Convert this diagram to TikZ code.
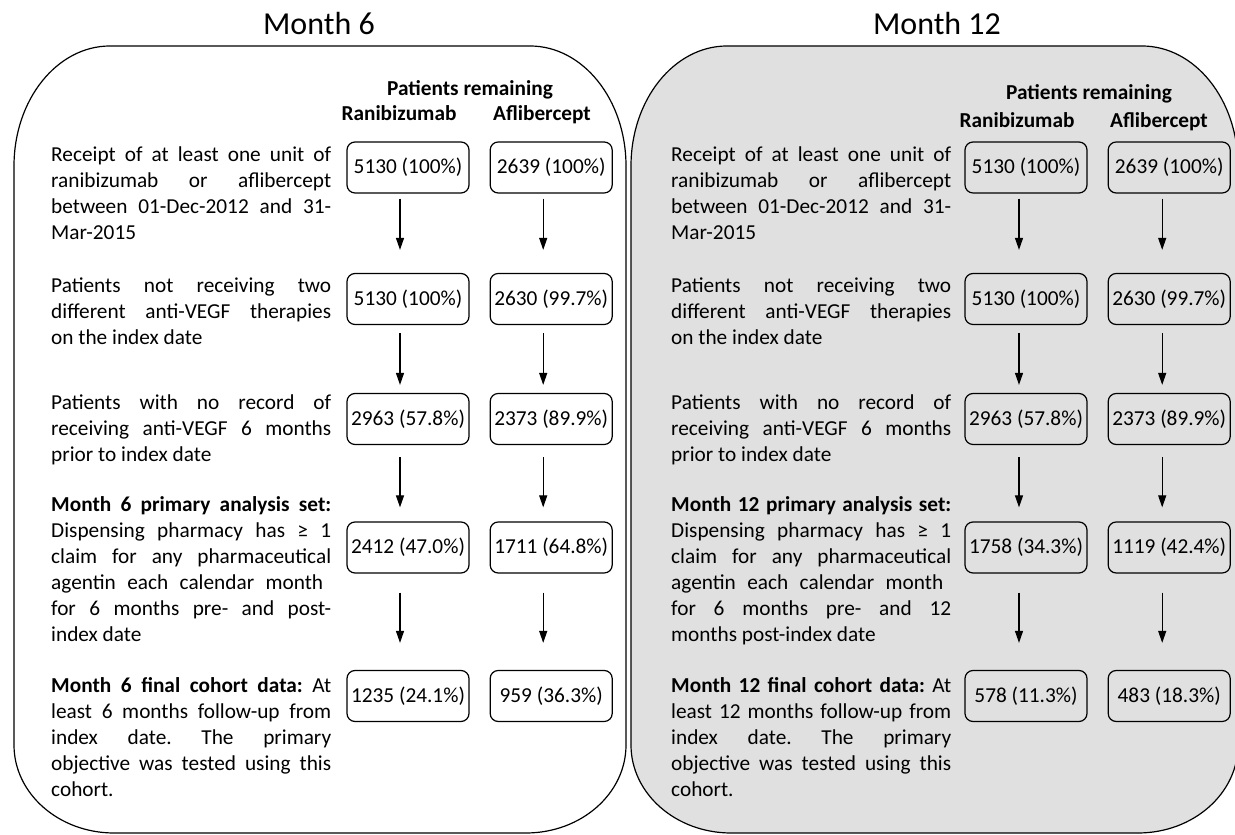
\documentclass[tikz,border=0pt]{standalone}
\usepackage{fontspec}
\setmainfont{Carlito}
\usetikzlibrary{positioning,arrows.meta}
\definecolor{panelgray}{RGB}{224,224,224}
\frenchspacing
\newcommand{\jl}[1]{\makebox[280pt][s]{#1}}
\newcommand{\para}[1]{\parbox[t]{280pt}{\fontsize{21.3}{26}\selectfont #1}}

\begin{document}
\begin{tikzpicture}
  [x=1pt, y=1pt, node distance=20pt,
   box/.style={draw, rounded corners=8pt, line width=1.2pt, minimum width=122pt,
     minimum height=51pt, inner sep=2pt, font=\fontsize{21.3}{26}\selectfont},
   txt/.style={anchor=base west, inner sep=0pt},
   hdr/.style={anchor=base, inner sep=0pt, font=\fontsize{21.3}{26}\selectfont\bfseries},
   ttl/.style={anchor=base, inner sep=0pt, font=\fontsize{32}{38}\selectfont},
   arr/.style={-{Triangle[length=12pt,width=8pt]}, line width=1.2pt},
   panel/.style={draw, line width=1.2pt}]
  \useasboundingbox (0,0) rectangle (1235,835);

  % the two panels
  \draw[panel] (110,789) -- (530,789) arc[start angle=90, end angle=0, x radius=96, y radius=120]
    -- (626,90) arc[start angle=0, end angle=-90, x radius=100, y radius=88]
    -- (114,2) arc[start angle=270, end angle=180, x radius=100, y radius=88]
    -- (14,669) arc[start angle=180, end angle=90, x radius=96, y radius=120] -- cycle;
  \draw[panel, fill=panelgray] (727,789) -- (1142,789) arc[start angle=90, end angle=0, x radius=96, y radius=120]
    -- (1238,90) arc[start angle=0, end angle=-90, x radius=100, y radius=88]
    -- (731,2) arc[start angle=270, end angle=180, x radius=100, y radius=88]
    -- (631,669) arc[start angle=180, end angle=90, x radius=96, y radius=120] -- cycle;

  \node[ttl] (m6) at (319,800) {Month 6};
  \node[ttl] (m12) at (937,800) {Month 12};

  % month 6
  \node[hdr] (pr6) at (470,739) {Patients remaining};
  \node[hdr] (ra6) at (399,714) {Ranibizumab};
  \node[hdr] (af6) at (542,714) {Aflibercept};

  \node[txt] (t6a) at (51,673) {\para{\jl{Receipt of at least one unit of}\\
    \jl{ranibizumab or aflibercept}\\ \jl{between 01-Dec-2012 and 31-}\\ Mar-2015}};
  \node[txt] (t6b) at (51,542) {\para{\jl{Patients not receiving two}\\
    \jl{different anti-VEGF therapies}\\ on the index date}};
  \node[txt] (t6c) at (51,425) {\para{\jl{Patients with no record of}\\
    \jl{receiving anti-VEGF 6 months}\\ prior to index date}};
  \node[txt] (t6d) at (51,323) {\para{\jl{\textbf{Month 6 primary analysis set:}}\\
    \jl{Dispensing pharmacy has ≥ 1}\\ \jl{claim for any pharmaceutical}\\
    \makebox[272pt][s]{agentin each calendar month}\\ \jl{for 6 months pre- and post-}\\ index date}};
  \node[txt] (t6e) at (51,142) {\para{\jl{\textbf{Month 6 final cohort data:} At}\\
    \jl{least 6 months follow-up from}\\ \jl{index date. The primary}\\
    \jl{objective was tested using this}\\ cohort.}};

  \node[box] (r6a) at (408,667.5) {5130 (100\%)};
  \node[box, right=of r6a] (a6a) {2639 (100\%)};
  \node[box] (r6b) at (408,536) {5130 (100\%)};
  \node[box, right=of r6b] (a6b) {2630 (99.7\%)};
  \node[box] (r6c) at (408,416) {2963 (57.8\%)};
  \node[box, right=of r6c] (a6c) {2373 (89.9\%)};
  \node[box] (r6d) at (408,287.5) {2412 (47.0\%)};
  \node[box, right=of r6d] (a6d) {1711 (64.8\%)};
  \node[box] (r6e) at (408,139) {1235 (24.1\%)};
  \node[box, right=of r6e] (a6e) {959 (36.3\%)};

  \draw[arr, shorten <=5pt, shorten >=23pt] ([xshift=-8pt]r6a.south) -- ([xshift=-8pt]r6b.north);
  \draw[arr, shorten <=5pt, shorten >=23pt] ([xshift=-8pt]a6a.south) -- ([xshift=-8pt]a6b.north);
  \draw[arr, shorten <=8pt, shorten >=8pt] ([xshift=-8pt]r6b.south) -- ([xshift=-8pt]r6c.north);
  \draw[arr, shorten <=8pt, shorten >=8pt] ([xshift=-8pt]a6b.south) -- ([xshift=-8pt]a6c.north);
  \draw[arr, shorten <=12pt, shorten >=14pt] ([xshift=-8pt]r6c.south) -- ([xshift=-8pt]r6d.north);
  \draw[arr, shorten <=12pt, shorten >=14pt] ([xshift=-8pt]a6c.south) -- ([xshift=-8pt]a6d.north);
  \draw[arr, shorten <=19pt, shorten >=27pt] ([xshift=-8pt]r6d.south) -- ([xshift=-8pt]r6e.north);
  \draw[arr, shorten <=19pt, shorten >=27pt] ([xshift=-8pt]a6d.south) -- ([xshift=-8pt]a6e.north);

  % month 12
  \node[hdr] (pr12) at (1089,735) {Patients remaining};
  \node[hdr] (ra12) at (1017,707) {Ranibizumab};
  \node[hdr] (af12) at (1159,707) {Aflibercept};

  \node[txt] (t12a) at (671,673) {\para{\jl{Receipt of at least one unit of}\\
    \jl{ranibizumab or aflibercept}\\ \jl{between 01-Dec-2012 and 31-}\\ Mar-2015}};
  \node[txt] (t12b) at (671,542) {\para{\jl{Patients not receiving two}\\
    \jl{different anti-VEGF therapies}\\ on the index date}};
  \node[txt] (t12c) at (671,425) {\para{\jl{Patients with no record of}\\
    \jl{receiving anti-VEGF 6 months}\\ prior to index date}};
  \node[txt] (t12d) at (671,323) {\para{\jl{\textbf{Month 12 primary analysis set:}}\\
    \jl{Dispensing pharmacy has ≥ 1}\\ \jl{claim for any pharmaceutical}\\
    \makebox[272pt][s]{agentin each calendar month}\\ \jl{for 6 months pre- and 12}\\ months post-index date}};
  \node[txt] (t12e) at (671,142) {\para{\jl{\textbf{Month 12 final cohort data:} At}\\
    \jl{least 12 months follow-up from}\\ \jl{index date. The primary}\\
    \jl{objective was tested using this}\\ cohort.}};

  \node[box] (r12a) at (1026,667.5) {5130 (100\%)};
  \node[box, right=of r12a] (a12a) {2639 (100\%)};
  \node[box] (r12b) at (1026,536) {5130 (100\%)};
  \node[box, right=of r12b] (a12b) {2630 (99.7\%)};
  \node[box] (r12c) at (1026,416) {2963 (57.8\%)};
  \node[box, right=of r12c] (a12c) {2373 (89.9\%)};
  \node[box] (r12d) at (1026,287.5) {1758 (34.3\%)};
  \node[box, right=of r12d] (a12d) {1119 (42.4\%)};
  \node[box] (r12e) at (1026,139) {578 (11.3\%)};
  \node[box, right=of r12e] (a12e) {483 (18.3\%)};

  \draw[arr, shorten <=5pt, shorten >=23pt] ([xshift=-7pt]r12a.south) -- ([xshift=-7pt]r12b.north);
  \draw[arr, shorten <=5pt, shorten >=23pt] ([xshift=-7pt]a12a.south) -- ([xshift=-7pt]a12b.north);
  \draw[arr, shorten <=8pt, shorten >=8pt] ([xshift=-7pt]r12b.south) -- ([xshift=-7pt]r12c.north);
  \draw[arr, shorten <=8pt, shorten >=8pt] ([xshift=-7pt]a12b.south) -- ([xshift=-7pt]a12c.north);
  \draw[arr, shorten <=12pt, shorten >=14pt] ([xshift=-7pt]r12c.south) -- ([xshift=-7pt]r12d.north);
  \draw[arr, shorten <=12pt, shorten >=14pt] ([xshift=-7pt]a12c.south) -- ([xshift=-7pt]a12d.north);
  \draw[arr, shorten <=19pt, shorten >=27pt] ([xshift=-7pt]r12d.south) -- ([xshift=-7pt]r12e.north);
  \draw[arr, shorten <=19pt, shorten >=27pt] ([xshift=-7pt]a12d.south) -- ([xshift=-7pt]a12e.north);
\end{tikzpicture}
\end{document}
